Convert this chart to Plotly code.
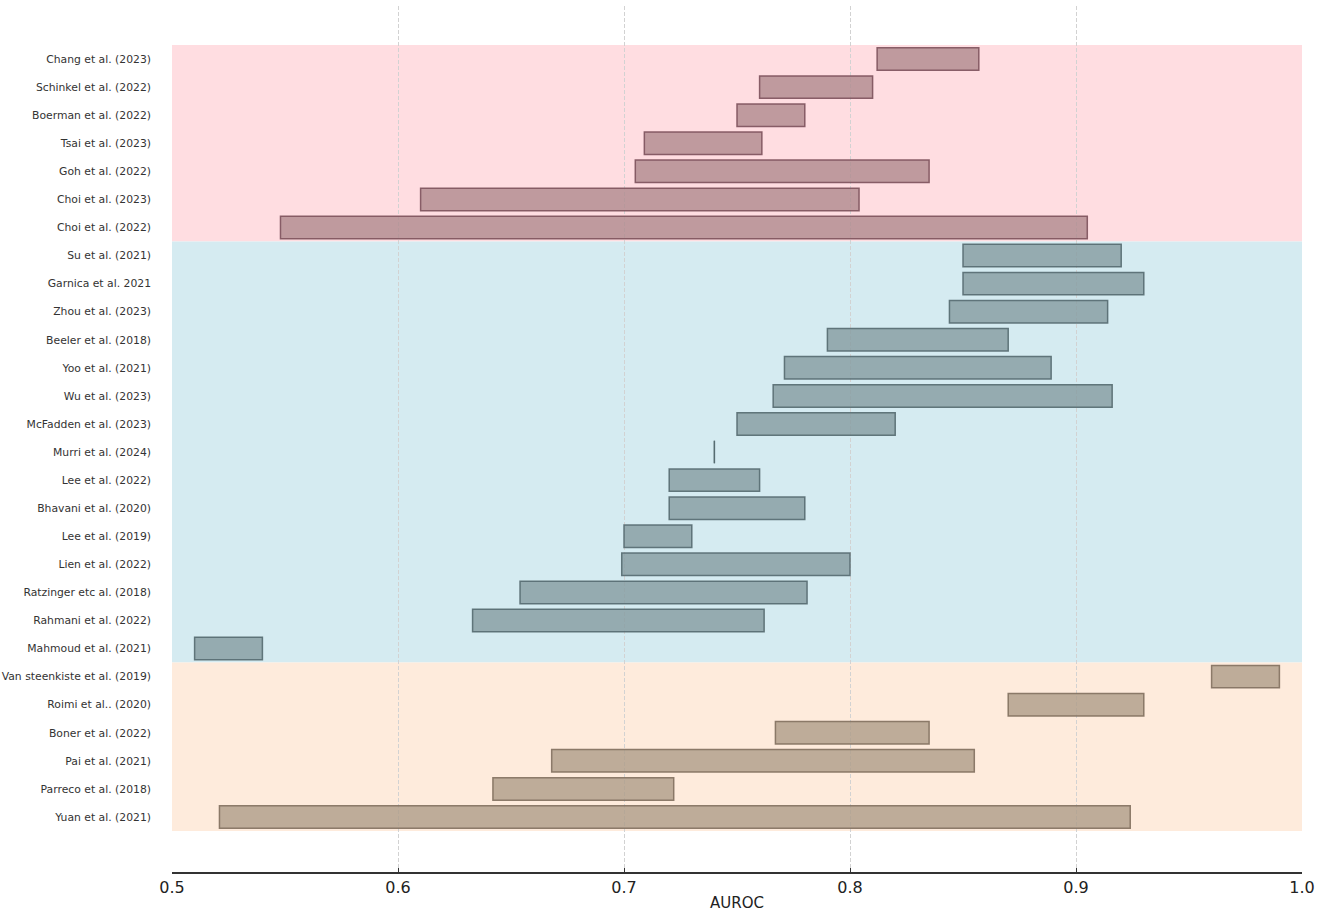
import plotly.graph_objects as go

# ---- data (top to bottom) ----
studies = [
    "Chang et al. (2023)", "Schinkel et al. (2022)", "Boerman et al. (2022)", "Tsai et al. (2023)",
    "Goh et al. (2022)", "Choi et al. (2023)", "Choi et al. (2022)",
    "Su et al. (2021)", "Garnica et al. 2021", "Zhou et al. (2023)", "Beeler et al. (2018)",
    "Yoo et al. (2021)", "Wu et al. (2023)", "McFadden et al. (2023)", "Murri et al. (2024)",
    "Lee et al. (2022)", "Bhavani et al. (2020)", "Lee et al. (2019)", "Lien et al. (2022)",
    "Ratzinger etc al. (2018)", "Rahmani et al. (2022)", "Mahmoud et al. (2021)",
    "Van steenkiste et al. (2019)", "Roimi et al.. (2020)", "Boner et al. (2022)",
    "Pai et al. (2021)", "Parreco et al. (2018)", "Yuan et al. (2021)",
]
auroc_low = [
    0.812, 0.760, 0.750, 0.709, 0.705, 0.610, 0.548,
    0.850, 0.850, 0.844, 0.790, 0.771, 0.766, 0.750, 0.740,
    0.720, 0.720, 0.700, 0.699, 0.654, 0.633, 0.510,
    0.960, 0.870, 0.767, 0.668, 0.642, 0.521,
]
auroc_high = [
    0.857, 0.810, 0.780, 0.761, 0.835, 0.804, 0.905,
    0.920, 0.930, 0.914, 0.870, 0.889, 0.916, 0.820, 0.740,
    0.760, 0.780, 0.730, 0.800, 0.781, 0.762, 0.540,
    0.990, 0.930, 0.835, 0.855, 0.722, 0.924,
]
groups = ["A"] * 7 + ["B"] * 15 + ["C"] * 6
group_order = ["A", "B", "C"]

# ---- styles ----
band_colors = {"A": "#FFDDE1", "B": "#D5EBF1", "C": "#FEEBDC"}
bar_fill = {"A": "rgba(175,137,141,0.8)", "B": "rgba(132,155,160,0.8)", "C": "rgba(174,156,136,0.8)"}
bar_edge = {"A": "rgba(125,82,92,0.9)", "B": "rgba(85,106,112,0.9)", "C": "rgba(130,112,95,0.9)"}

fig = go.Figure()

shapes = []
# background bands per group
for g in group_order:
    idx = [i for i, gg in enumerate(groups) if gg == g]
    shapes.append(dict(type="rect", xref="x", yref="y", x0=0.5, x1=1.0,
                       y0=min(idx) - 0.5, y1=max(idx) + 0.5,
                       fillcolor=band_colors[g], line=dict(width=0), layer="below"))

for g in group_order:
    idx = [i for i, gg in enumerate(groups) if gg == g]
    fig.add_trace(go.Bar(
        y=[studies[i] for i in idx],
        x=[auroc_high[i] - auroc_low[i] for i in idx],
        base=[auroc_low[i] for i in idx],
        orientation="h",
        width=0.8,
        marker=dict(color=bar_fill[g], line=dict(color=bar_edge[g], width=1.5)),
        showlegend=False,
        hoverinfo="skip",
    ))
    # zero-width ranges are drawn as a thin line
    for i in idx:
        if auroc_high[i] == auroc_low[i]:
            shapes.append(dict(type="line", xref="x", yref="y",
                               x0=auroc_low[i], x1=auroc_high[i], y0=i - 0.4, y1=i + 0.4,
                               line=dict(color=bar_edge[g], width=1.2)))

fig.update_layout(
    width=1317, height=912,
    margin=dict(l=172, r=15, t=6, b=40, autoexpand=False),
    paper_bgcolor="white", plot_bgcolor="white",
    barmode="overlay",
    shapes=shapes,
    font=dict(family="DejaVu Sans", color="#333333"),
)
fig.update_xaxes(
    range=[0.5, 1.0], tickvals=[0.5, 0.6, 0.7, 0.8, 0.9, 1.0],
    ticktext=["0.5", "0.6", "0.7", "0.8", "0.9", "1.0"],
    showgrid=True, gridcolor="#d2d2d2", griddash="4px,2px", gridwidth=0.8,
    showline=True, linecolor="#333333", linewidth=1.5,
    ticks="inside", ticklen=4, tickcolor="#333333",
    tickfont=dict(size=16, color="#222222"),
    title=dict(text="AUROC", font=dict(size=15, color="#222222"), standoff=3),
    zeroline=False, automargin=False,
)
fig.update_yaxes(
    type="category", categoryorder="array", categoryarray=studies,
    range=[len(studies) - 1 + 1.96, -1.89],
    showgrid=False, showline=False, ticks="", zeroline=False,
    tickfont=dict(size=10.8, color="#333333"),
    ticklabelstandoff=20, automargin=False,
)

fig.write_html(
    "out.html",
    config={"displayModeBar": False},
    post_script="document.body.style.margin='0';document.body.style.overflow='hidden';",
)
